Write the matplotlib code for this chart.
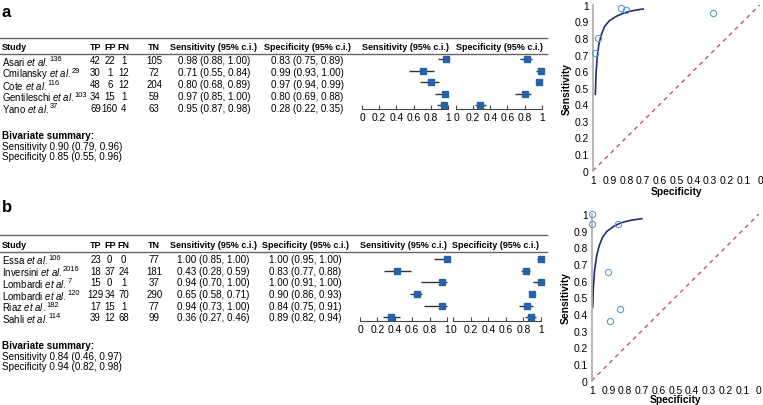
import matplotlib
matplotlib.use('Agg')
import matplotlib.pyplot as plt

plt.rcParams['font.family'] = ['Liberation Sans', 'DejaVu Sans']
plt.rcParams['mathtext.fontset'] = 'custom'
plt.rcParams['mathtext.rm'] = 'Liberation Sans'
plt.rcParams['mathtext.it'] = 'Liberation Sans:italic'
plt.rcParams['mathtext.bf'] = 'Liberation Sans:bold'

# ---------------- data ----------------
headers = ['Study', 'TP', 'FP', 'FN', 'TN', 'Sensitivity (95% c.i.)', 'Specificity (95% c.i.)',
           'Sensitivity (95% c.i.)', 'Specificity (95% c.i.)']

a_names = ['Asari', 'Cmilansky', 'Cote', 'Gentileschi', 'Yano']
a_refs = ['136', '29', '116', '103', '37']
a_tp = [42, 30, 48, 34, 69]
a_fp = [22, 1, 6, 15, 160]
a_fn = [1, 12, 12, 1, 4]
a_tn = [105, 72, 204, 59, 63]
a_sens = [0.98, 0.71, 0.80, 0.97, 0.95]
a_sens_lo = [0.88, 0.55, 0.68, 0.85, 0.87]
a_sens_hi = [1.00, 0.84, 0.89, 1.00, 0.98]
a_spec = [0.83, 0.99, 0.97, 0.80, 0.28]
a_spec_lo = [0.75, 0.93, 0.94, 0.69, 0.22]
a_spec_hi = [0.89, 1.00, 0.99, 0.88, 0.35]
a_summary = ['Sensitivity 0.90 (0.79, 0.96)', 'Specificity 0.85 (0.55, 0.96)']
a_curve_spec = [0.986, 0.982, 0.975, 0.965, 0.95, 0.93, 0.90, 0.86, 0.82, 0.78, 0.74, 0.70]
a_curve_sens = [0.46, 0.58, 0.68, 0.76, 0.82, 0.87, 0.905, 0.93, 0.948, 0.96, 0.968, 0.974]

b_names = ['Essa', 'Inversini', 'Lombardi', 'Lombardi', 'Riaz', 'Sahli']
b_refs = ['106', '2016', '7', '120', '182', '114']
b_tp = [23, 18, 15, 129, 17, 39]
b_fp = [0, 37, 0, 34, 15, 12]
b_fn = [0, 24, 1, 70, 1, 68]
b_tn = [77, 181, 37, 290, 77, 99]
b_sens = [1.00, 0.43, 0.94, 0.65, 0.94, 0.36]
b_sens_lo = [0.85, 0.28, 0.70, 0.58, 0.73, 0.27]
b_sens_hi = [1.00, 0.59, 1.00, 0.71, 1.00, 0.46]
b_spec = [1.00, 0.83, 1.00, 0.90, 0.84, 0.89]
b_spec_lo = [0.95, 0.77, 0.91, 0.86, 0.75, 0.82]
b_spec_hi = [1.00, 0.88, 1.00, 0.93, 0.91, 0.94]
b_summary = ['Sensitivity 0.84 (0.46, 0.97)', 'Specificity 0.94 (0.82, 0.98)']
b_curve_spec = [0.994, 0.99, 0.983, 0.97, 0.955, 0.935, 0.91, 0.87, 0.83, 0.79, 0.75, 0.70]
b_curve_sens = [0.44, 0.56, 0.66, 0.75, 0.81, 0.86, 0.895, 0.925, 0.945, 0.957, 0.965, 0.972]

forest_ticks = [0, 0.2, 0.4, 0.6, 0.8, 1.0]
forest_ticklabels = ['0', '0.2', '0.4', '0.6', '0.8', '1']
roc_ticks = [0, 0.1, 0.2, 0.3, 0.4, 0.5, 0.6, 0.7, 0.8, 0.9, 1.0]
roc_ticklabels = ['0', '0.1', '0.2', '0.3', '0.4', '0.5', '0.6', '0.7', '0.8', '0.9', '1']

# ---------------- style ----------------
W, H = 763, 406
FS = 7.1
NAMEFS = 6.9
NFS = 6.9
HFS = 6.45
TFS = 7.4
SUPFS = 5.4
BLUE = '#2563a6'
CIRC = '#5b9bd5'
CURVE = '#1f2a78'
DIAG = '#d0505a'
LINE = '#666666'

fig = plt.figure(figsize=(W / 100, H / 100), dpi=100)
bg = fig.add_axes([0, 0, 1, 1])
bg.set_xlim(0, W)
bg.set_ylim(H, 0)
bg.axis('off')
renderer = fig.canvas.get_renderer()


def px_axes(l, t, r, b):
    return fig.add_axes([l / W, 1 - b / H, (r - l) / W, (b - t) / H])


def study_label(x, y, name, ref):
    t = bg.text(x, y, name + r' $\mathit{et\ al.}$', fontsize=NAMEFS, va='center', ha='left')
    ext = t.get_window_extent(renderer=renderer)
    x_end = ext.x1 * W / fig.bbox.width
    bg.text(x_end + 0.5, y - 2.2, ref, fontsize=SUPFS, va='center', ha='left')


def table(label, label_y, top_y, head_y, under_y, row_y, names, refs, tp, fp, fn, tn,
          sens, slo, shi, spec, plo, phi, summ, summ_y, hx):
    bg.text(2, label_y, label, fontsize=12, fontweight='bold', va='center', ha='left')
    bg.plot([0, 547], [top_y, top_y], color=LINE, lw=1.0)
    bg.plot([0, 547], [under_y, under_y], color=LINE, lw=1.0)
    bg.text(2, head_y, headers[0], fontsize=HFS, fontweight='bold', va='center', ha='left')
    colx = [95.5, 109.7, 123.8, 154.2]
    for h, x in zip(headers[1:5], colx):
        bg.text(x, head_y, h, fontsize=HFS, fontweight='bold', va='center', ha='center')
    for h, x in zip(headers[5:], hx):
        bg.text(x, head_y, h, fontsize=HFS, fontweight='bold', va='center', ha='center')
    for i in range(len(names)):
        y = row_y[i]
        study_label(2, y + 0.5, names[i], refs[i])
        for v, x in zip([tp[i], fp[i], fn[i], tn[i]], colx):
            bg.text(x, y, str(v), fontsize=NFS, va='center', ha='center')
        bg.text(hx[0], y, f'{sens[i]:.2f} ({slo[i]:.2f}, {shi[i]:.2f})', fontsize=FS,
                va='center', ha='center')
        bg.text(hx[1], y, f'{spec[i]:.2f} ({plo[i]:.2f}, {phi[i]:.2f})', fontsize=FS,
                va='center', ha='center')
    bg.text(2, summ_y[0], 'Bivariate summary:', fontsize=FS, fontweight='bold', va='center')
    bg.text(2, summ_y[1], summ[0], fontsize=FS, va='center')
    bg.text(2, summ_y[2], summ[1], fontsize=FS, va='center')


def forest(l, r, top, axis_y, row_y, est, lo, hi):
    ax = px_axes(l, top, r, axis_y)
    n = len(est)
    r0 = row_y[0]
    step = row_y[1] - row_y[0]
    ax.set_xlim(0, 1)
    ax.set_ylim((axis_y - r0) / step, (top - r0) / step)
    ax.patch.set_alpha(0)
    ys = list(range(n))
    ax.hlines(ys, lo, hi, color='#333333', lw=1.0, clip_on=False)
    ax.plot(est, ys, 's', ms=4.8, color=BLUE, mec=BLUE, clip_on=False, zorder=3)
    for s in ['top', 'right', 'left']:
        ax.spines[s].set_visible(False)
    ax.spines['bottom'].set_color('#444444')
    ax.spines['bottom'].set_linewidth(0.8)
    ax.set_yticks([])
    ax.set_xticks(forest_ticks)
    ax.set_xticklabels(forest_ticklabels)
    ax.tick_params(axis='x', direction='in', length=3, width=0.8, color='#444444',
                   labelsize=TFS, pad=2)


def roc(l, t, r, b, spec, sens, cspec, csens, xl_y):
    ax = px_axes(l, t, r, b)
    ax.set_xlim(1, 0)
    ax.set_ylim(0, 1)
    ax.patch.set_alpha(0)
    ax.plot([1, 0], [0, 1], color=DIAG, lw=1.0, dashes=(3, 3))
    ax.plot(cspec, csens, color=CURVE, lw=1.2)
    ax.plot(spec, sens, 'o', mfc='none', mec=CIRC, ms=4.5, mew=0.8, clip_on=False, zorder=4)
    for s in ['top', 'right', 'bottom']:
        ax.spines[s].set_visible(False)
    ax.spines['left'].set_color('#aaaaaa')
    ax.spines['left'].set_linewidth(1.2)
    ax.set_xticks(roc_ticks)
    ax.set_xticklabels(roc_ticklabels)
    ax.set_yticks(roc_ticks)
    ax.set_yticklabels(roc_ticklabels)
    ax.tick_params(length=0, labelsize=TFS, pad=3)
    bg.text(l - 26, (t + b) / 2, 'Sensitivity', rotation=90, fontsize=TFS, fontweight='bold',
            va='center', ha='center')
    bg.text((l + r) / 2, xl_y, 'Specificity', fontsize=TFS, fontweight='bold',
            va='center', ha='center')


# ---------------- panel a ----------------
a_rows = [61.5 + 11.8 * i for i in range(len(a_names))]
a_mrows = [60.3 + 11.5 * i for i in range(len(a_names))]
table('a', 12.5, 39, 47.5, 54.5, a_rows, a_names, a_refs, a_tp, a_fp, a_fn, a_tn,
      a_sens, a_sens_lo, a_sens_hi, a_spec, a_spec_lo, a_spec_hi, a_summary,
      [136, 147, 157], [214, 307.5, 405, 499.5])
forest(362, 448, 56, 110, a_mrows, a_sens, a_sens_lo, a_sens_hi)
forest(456, 541.7, 56, 110, a_mrows, a_spec, a_spec_lo, a_spec_hi)
roc(593, 5.7, 760, 171.7, a_spec, a_sens, a_curve_spec, a_curve_sens, 192)

# ---------------- panel b ----------------
b_rows = [260 + 11.7 * i for i in range(len(b_names))]
table('b', 208, 235.7, 246, 253.3, b_rows, b_names, b_refs, b_tp, b_fp, b_fn, b_tn,
      b_sens, b_sens_lo, b_sens_hi, b_spec, b_spec_lo, b_spec_hi, b_summary,
      [346, 357, 367], [213.5, 305.5, 403, 495])
forest(360, 447, 255, 322.3, b_rows, b_sens, b_sens_lo, b_sens_hi)
forest(453, 541, 255, 322.3, b_rows, b_spec, b_spec_lo, b_spec_hi)
roc(591.7, 215, 759, 381.7, b_spec, b_sens, b_curve_spec, b_curve_sens, 400)

fig.savefig('out.png', dpi=100)
